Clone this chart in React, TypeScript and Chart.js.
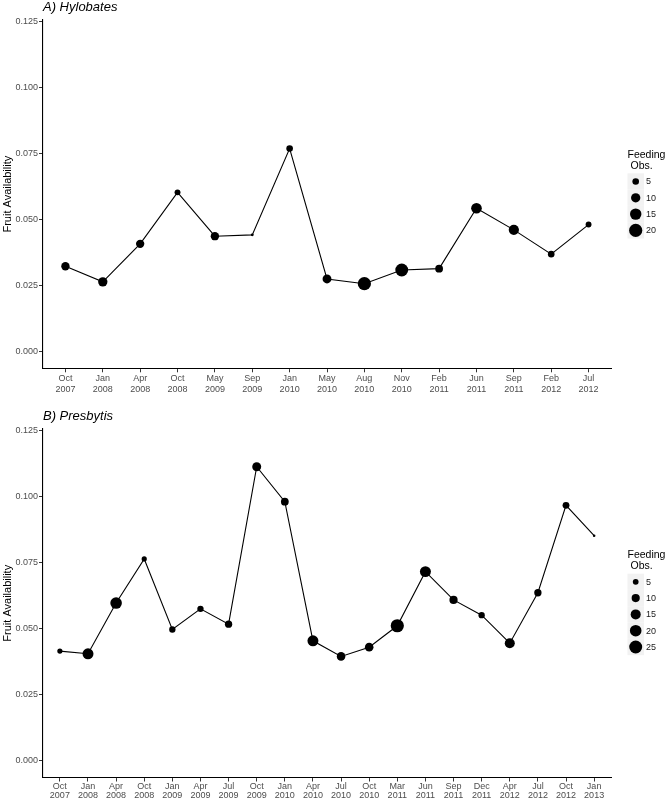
import React, { useEffect, useRef } from 'react';
import { Chart, registerables } from 'chart.js';

Chart.register(...registerables);

// ---------- Data ----------
const hyloMonths = ['Oct', 'Jan', 'Apr', 'Oct', 'May', 'Sep', 'Jan', 'May', 'Aug', 'Nov', 'Feb', 'Jun', 'Sep', 'Feb', 'Jul'];
const hyloYears = ['2007', '2008', '2008', '2008', '2009', '2009', '2010', '2010', '2010', '2010', '2011', '2011', '2011', '2012', '2012'];
const hyloFruit = [0.0324, 0.0265, 0.0409, 0.0604, 0.0438, 0.0443, 0.077, 0.0276, 0.0258, 0.031, 0.0315, 0.0544, 0.0462, 0.037, 0.0482];
const hyloObs = [8, 10, 8, 4, 8, 1, 5, 9, 20, 19, 7, 13, 12, 5, 4];
const hyloLegend = [5, 10, 15, 20];

const presMonths = ['Oct', 'Jan', 'Apr', 'Oct', 'Jan', 'Apr', 'Jul', 'Oct', 'Jan', 'Apr', 'Jul', 'Oct', 'Mar', 'Jun', 'Sep', 'Dec', 'Apr', 'Jul', 'Oct', 'Jan'];
const presYears = ['2007', '2008', '2008', '2008', '2009', '2009', '2009', '2009', '2010', '2010', '2010', '2010', '2011', '2011', '2011', '2011', '2012', '2012', '2012', '2013'];
const presFruit = [0.0416, 0.0406, 0.0598, 0.0765, 0.0498, 0.0576, 0.0518, 0.1114, 0.0982, 0.0455, 0.0396, 0.0431, 0.0512, 0.0717, 0.061, 0.0552, 0.0446, 0.0637, 0.0968, 0.0853];
const presObs = [4, 18, 20, 4, 6, 6, 8, 12, 9, 18, 11, 11, 26, 18, 10, 6, 15, 8, 7, 1];
const presLegend = [5, 10, 15, 20, 25];

const yTicks = [0, 0.025, 0.05, 0.075, 0.1, 0.125];

const FONT = "'Liberation Sans', Arial, Helvetica, sans-serif";

type PanelProps = {
  top: number;
  height: number;
  title: string;
  months: string[];
  years: string[];
  fruit: number[];
  obs: number[];
  legendVals: number[];
  xHeight: number;
  xLineHeight: number;
  legendTop: number;
};

function Panel(p: PanelProps) {
  const ref = useRef<HTMLCanvasElement | null>(null);
  useEffect(() => {
    if (!ref.current) return;
    const maxObs = Math.max(...p.obs);
    const k = 6.6 / Math.sqrt(maxObs);
    const rad = (v: number) => k * Math.sqrt(v);
    const n = p.months.length;

    const overlay = {
      id: 'overlay',
      afterDraw(chart: any) {
        const ctx = chart.ctx;
        ctx.save();
        // title
        ctx.fillStyle = '#000';
        ctx.font = `italic 13px ${FONT}`;
        ctx.textBaseline = 'alphabetic';
        ctx.textAlign = 'left';
        ctx.fillText(p.title, 43, 10.8);
        // legend
        const lx = 627.5;
        ctx.font = `10.5px ${FONT}`;
        ctx.textBaseline = 'middle';
        ctx.fillText('Feeding', lx, p.legendTop);
        ctx.fillText('Obs.', lx + 3, p.legendTop + 11);
        const keyH = 16.3;
        const firstKey = p.legendTop + 26.8;
        p.legendVals.forEach((v, i) => {
          const cy = firstKey + i * keyH;
          ctx.fillStyle = '#F2F2F2';
          ctx.fillRect(lx, cy - keyH / 2, 16.5, keyH);
        });
        p.legendVals.forEach((v, i) => {
          const cy = firstKey + i * keyH;
          ctx.fillStyle = '#000';
          ctx.beginPath();
          ctx.arc(lx + 8.2, cy, rad(v), 0, Math.PI * 2);
          ctx.fill();
          ctx.fillStyle = '#1a1a1a';
          ctx.font = `9px ${FONT}`;
          ctx.fillText(String(v), lx + 18.5, cy + 0.5);
        });
        ctx.restore();
      },
    };

    const chart = new Chart(ref.current, {
      type: 'line',
      data: {
        datasets: [
          {
            data: p.fruit.map((y, i) => ({ x: i, y })),
            borderColor: '#000',
            borderWidth: 1.1,
            backgroundColor: '#000',
            pointBackgroundColor: '#000',
            pointBorderWidth: 0,
            pointRadius: p.obs.map((v) => rad(v)),
            pointHoverRadius: p.obs.map((v) => rad(v)),
            tension: 0,
          },
        ],
      },
      options: {
        animation: false,
        responsive: false,
        events: [],
        layout: { padding: { left: 0, right: 56, top: 20, bottom: 0 } },
        plugins: { legend: { display: false }, tooltip: { enabled: false }, title: { display: false } },
        scales: {
          x: {
            type: 'linear',
            min: -0.6,
            max: n - 1 + 0.6,
            afterBuildTicks: (scale: any) => {
              scale.ticks = p.months.map((_, i) => ({ value: i }));
            },
            afterFit: (scale: any) => {
              scale.height = p.xHeight;
            },
            grid: { drawOnChartArea: false, drawTicks: true, tickLength: 4, tickColor: '#333', tickWidth: 1 },
            border: { display: true, color: '#000', width: 1.1 },
            ticks: {
              autoSkip: false,
              maxRotation: 0,
              minRotation: 0,
              padding: 1,
              color: '#4D4D4D',
              font: { family: FONT, size: 9, lineHeight: p.xLineHeight },
              callback: (val: any) => {
                const i = Math.round(Number(val));
                return [p.months[i], p.years[i]];
              },
            },
          },
          y: {
            type: 'linear',
            min: -0.00625,
            max: 0.1257,
            afterBuildTicks: (scale: any) => {
              scale.ticks = yTicks.map((v) => ({ value: v }));
            },
            afterFit: (scale: any) => {
              scale.width = 43;
            },
            grid: { drawOnChartArea: false, drawTicks: true, tickLength: 4, tickColor: '#333', tickWidth: 1 },
            border: { display: true, color: '#000', width: 1.1 },
            title: {
              display: true,
              text: 'Fruit Availability',
              color: '#000',
              font: { family: FONT, size: 11 },
              padding: { top: 1, bottom: 0 },
            },
            ticks: {
              padding: 1,
              color: '#4D4D4D',
              font: { family: FONT, size: 9 },
              callback: (val: any) => Number(val).toFixed(3),
            },
          },
        },
      },
      plugins: [overlay],
    } as any);
    return () => chart.destroy();
  }, []);
  return (
    <canvas
      ref={ref}
      width={667}
      height={p.height}
      style={{ position: 'absolute', left: 0, top: p.top, width: 667, height: p.height }}
    />
  );
}

export default function App() {
  return (
    <div style={{ position: 'absolute', left: 0, top: 0, width: 667, height: 800, background: '#fff' }}>
      <Panel
        top={0}
        height={409}
        title="A) Hylobates"
        months={hyloMonths}
        years={hyloYears}
        fruit={hyloFruit}
        obs={hyloObs}
        legendVals={hyloLegend}
        xHeight={40.7}
        xLineHeight={1.2}
        legendTop={154.7}
      />
      <Panel
        top={409}
        height={391}
        title="B) Presbytis"
        months={presMonths}
        years={presYears}
        fruit={presFruit}
        obs={presObs}
        legendVals={presLegend}
        xHeight={22.5}
        xLineHeight={1.0}
        legendTop={146}
      />
    </div>
  );
}
